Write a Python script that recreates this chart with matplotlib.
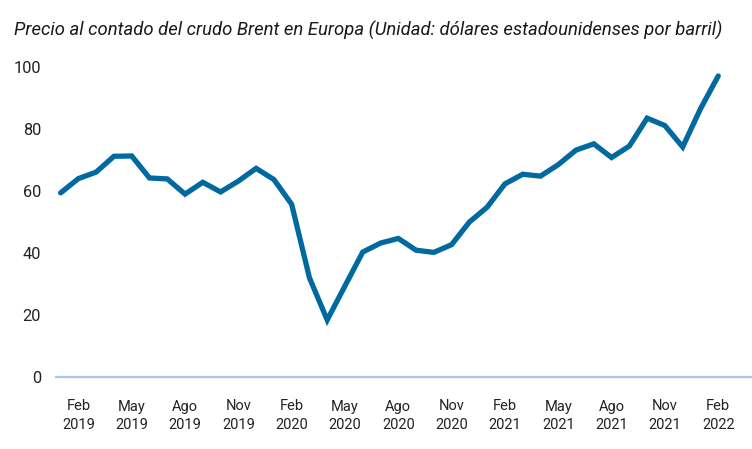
import matplotlib
matplotlib.use("Agg")
import matplotlib.pyplot as plt

plt.rcParams['font.family'] = ['Roboto', 'DejaVu Sans']

months = ["Ene 2019", "Feb 2019", "Mar 2019", "Abr 2019", "May 2019", "Jun 2019", "Jul 2019",
          "Ago 2019", "Sep 2019", "Oct 2019", "Nov 2019", "Dic 2019",
          "Ene 2020", "Feb 2020", "Mar 2020", "Abr 2020", "May 2020", "Jun 2020", "Jul 2020",
          "Ago 2020", "Sep 2020", "Oct 2020", "Nov 2020", "Dic 2020",
          "Ene 2021", "Feb 2021", "Mar 2021", "Abr 2021", "May 2021", "Jun 2021", "Jul 2021",
          "Ago 2021", "Sep 2021", "Oct 2021", "Nov 2021", "Dic 2021",
          "Ene 2022", "Feb 2022"]
prices = [59.4, 64.0, 66.1, 71.2, 71.3, 64.2, 63.9, 59.0, 62.8, 59.7, 63.2, 67.3,
          63.7, 55.7, 32.0, 18.4, 29.4, 40.3, 43.2, 44.7, 40.9, 40.2, 42.7, 50.0,
          54.8, 62.3, 65.4, 64.8, 68.5, 73.2, 75.2, 70.8, 74.5, 83.5, 81.1, 74.2,
          86.5, 97.1]
tick_idx = [1, 4, 7, 10, 13, 16, 19, 22, 25, 28, 31, 34, 37]
tick_labels = ["Feb\n2019", "May\n2019", "Ago\n2019", "Nov\n2019", "Feb\n2020", "May\n2020",
               "Ago\n2020", "Nov\n2020", "Feb\n2021", "May\n2021", "Ago\n2021", "Nov\n2021",
               "Feb\n2022"]
y_ticks = [0, 20, 40, 60, 80, 100]
title = "Precio al contado del crudo Brent en Europa (Unidad: dólares estadounidenses por barril)"

fig = plt.figure(figsize=(7.52, 4.49), dpi=100)
ax = fig.add_axes([56/752, 1 - 377/449, 1 - 56/752, (377 - 67)/449])

x = list(range(len(prices)))
ax.plot(x, prices, color="#0069a0", lw=3.8, solid_joinstyle="miter",
        solid_capstyle="round", clip_on=False, zorder=3)

ax.set_xlim(-0.26, 38.9)
ax.set_ylim(0, 100)
ax.set_yticks(y_ticks)
ax.set_yticklabels([str(v) for v in y_ticks])
ax.set_xticks(tick_idx)
ax.set_xticklabels(tick_labels, linespacing=1.45)

for s in ["top", "right", "left"]:
    ax.spines[s].set_visible(False)
ax.spines["bottom"].set_color("#a9c9e6")
ax.spines["bottom"].set_linewidth(1.6)

ax.tick_params(axis="y", length=0, pad=10.8, labelsize=11.8, labelcolor="#222222")
ax.tick_params(axis="x", length=0, pad=16.2, labelsize=10.5, labelcolor="#222222")

fig.text(14/752, 1 - 30/449, title, fontsize=13.3, style="italic", color="#1a1a1a",
         ha="left", va="center")

fig.savefig("out.png", dpi=100)
